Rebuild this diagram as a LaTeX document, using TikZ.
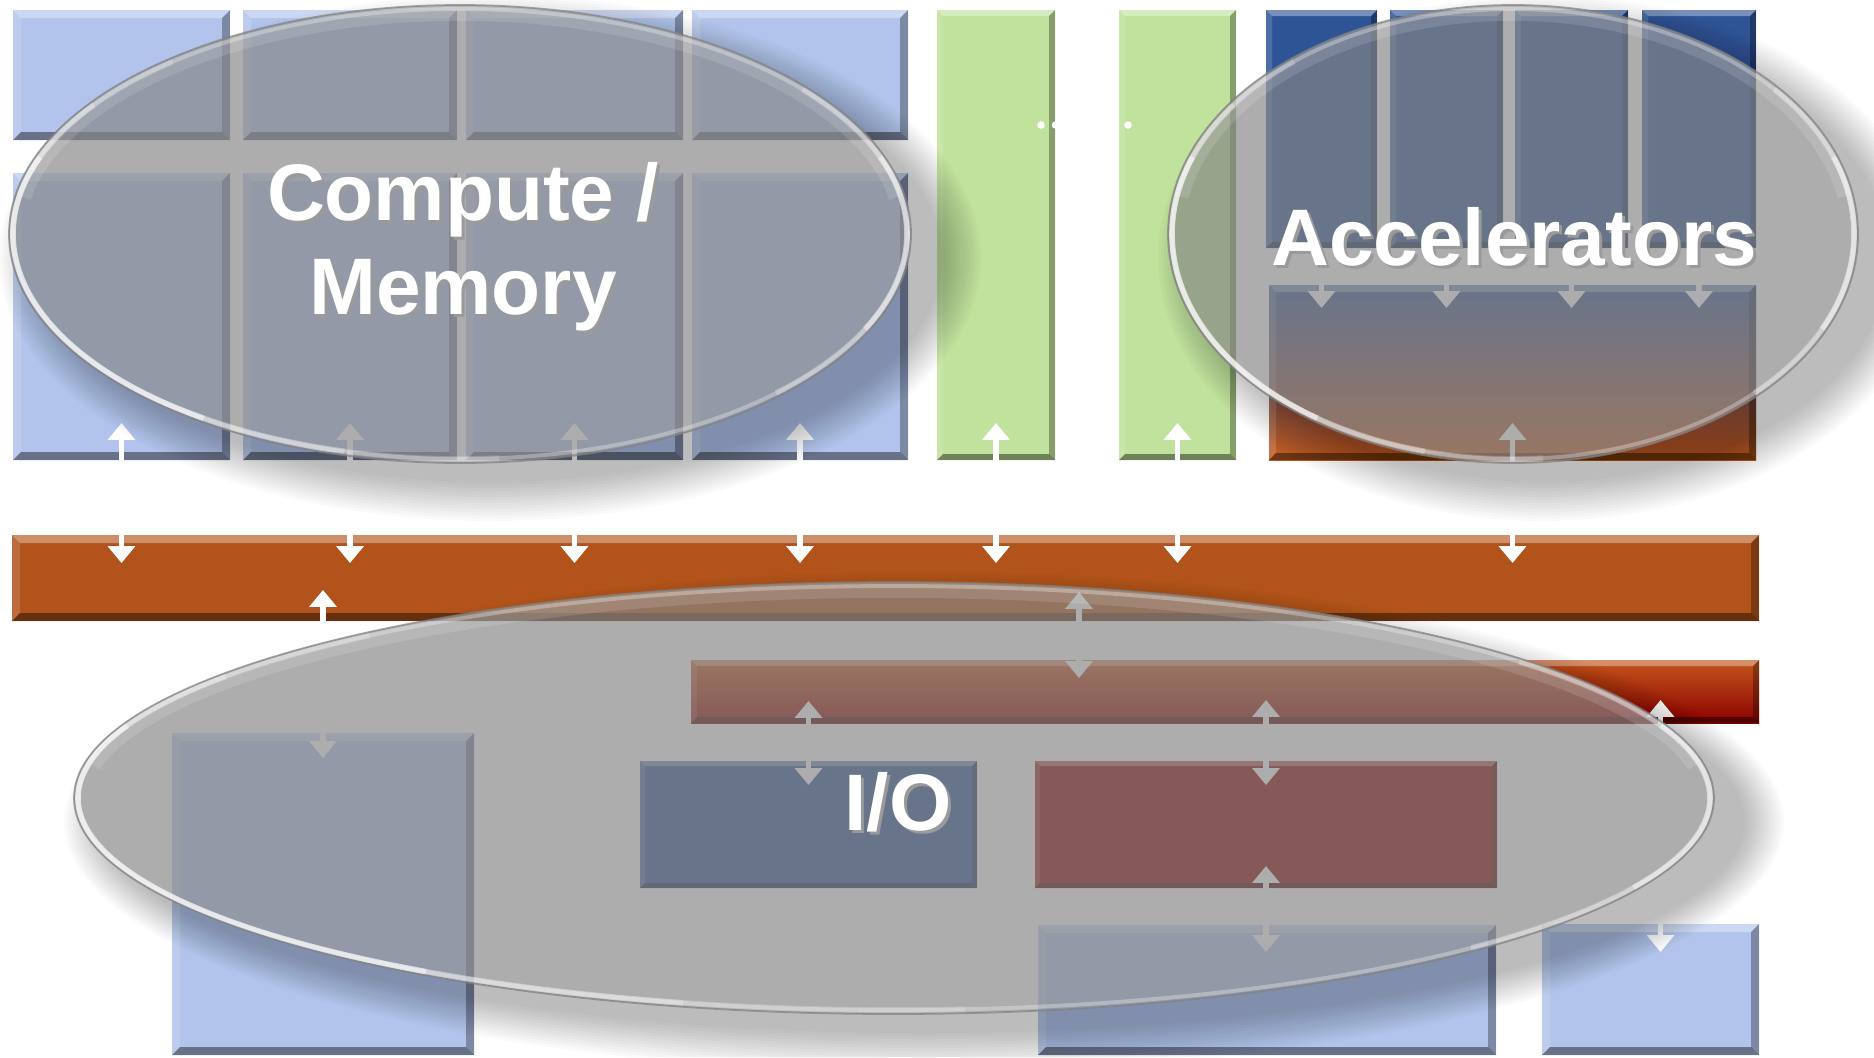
\documentclass[tikz,border=0pt]{standalone}
\usepackage{fontspec}
\setmainfont{Liberation Sans}
\usetikzlibrary{arrows.meta,fit,calc}

\definecolor{lblue}{HTML}{B2C4EB}
\definecolor{lgreen}{HTML}{C0E29C}
\definecolor{dblue}{HTML}{2F5496}
\definecolor{busorange}{HTML}{B1531A}
\definecolor{barorange}{HTML}{C4561C}
\definecolor{dred}{HTML}{8B0000}
\definecolor{accorange}{HTML}{C25A1E}
\definecolor{glass}{HTML}{858585}
\definecolor{txtshadow}{HTML}{9A9A9A}

% white rim arc on a glass ellipse: {cx}{cy}{rx}{ry}{from}{to}{opacity}
\newcommand\rimarc[7]{%
  \draw[white, opacity=#7, line width=1.6pt]
    ({#1+(#3-4)*cos(#5)},{#2+(#4-4)*sin(#5)})
    arc [start angle=#5, end angle=#6, x radius={#3-4}, y radius={#4-4}];
}

% translucent glass ellipse with a soft outer shadow: {cx}{cy}{rx}{ry}
\newcommand\glassellipse[4]{%
  \begin{scope}[even odd rule]
    \clip (0,0) -- (0,1057) -- (1874,1057) -- (1874,0) -- cycle
      (#1,#2) ellipse [x radius=#3, y radius=#4];
    \foreach \k in {0,...,13}
      \fill[black, fill opacity=0.02] ({#1+30},{#2+24})
        ellipse [x radius={#3+40-3*\k}, y radius={#4+34-3*\k}];
  \end{scope}
  \fill[glass, fill opacity=0.67] (#1,#2) ellipse [x radius=#3, y radius=#4];
  % soft light band along the upper inner edge
  \begin{scope}
    \clip (#1,#2) ellipse [x radius=#3, y radius=#4];
    \draw[white, opacity=0.13, line width=9pt]
      ({#1+#3*cos(190)},{#2+#4*sin(190)})
      arc [start angle=190, end angle=350, x radius=#3, y radius=#4];
  \end{scope}
  % glossy rim, brightest on the lower left and right
  \draw[white, opacity=0.3, line width=1.1pt] (#1,#2) ellipse [x radius={#3-4}, y radius={#4-4}];
  \rimarc{#1}{#2}{#3}{#4}{85}{105}{0.2}
  \rimarc{#1}{#2}{#3}{#4}{105}{125}{0.4}
  \rimarc{#1}{#2}{#3}{#4}{125}{200}{0.7}
  \rimarc{#1}{#2}{#3}{#4}{200}{215}{0.4}
  \rimarc{#1}{#2}{#3}{#4}{215}{230}{0.2}
  \rimarc{#1}{#2}{#3}{#4}{-40}{-20}{0.25}
  \rimarc{#1}{#2}{#3}{#4}{-20}{25}{0.55}
  \rimarc{#1}{#2}{#3}{#4}{25}{45}{0.25}
  \draw[gray, opacity=0.7, line width=0.5pt] (#1,#2) ellipse [x radius=#3, y radius=#4];
}

\begin{document}
\begin{tikzpicture}[x=0.01cm, y=-0.01cm,
  blk/.style={inner sep=0pt, outer sep=0pt, draw=none},
  bevel/.style={path picture={
    \coordinate (bnw) at (path picture bounding box.north west);
    \coordinate (bne) at (path picture bounding box.north east);
    \coordinate (bsw) at (path picture bounding box.south west);
    \coordinate (bse) at (path picture bounding box.south east);
    \fill[white, fill opacity=0.35] (bnw) -- (bne) -- ($(bne)+(-#1,#1)$) -- ($(bnw)+(#1,#1)$) -- cycle;
    \fill[white, fill opacity=0.15] (bnw) -- ($(bnw)+(#1,#1)$) -- ($(bsw)+(#1,-#1)$) -- (bsw) -- cycle;
    \fill[black, fill opacity=0.30] (bne) -- (bse) -- ($(bse)+(-#1,-#1)$) -- ($(bne)+(-#1,#1)$) -- cycle;
    \fill[black, fill opacity=0.42] (bsw) -- (bse) -- ($(bse)+(-#1,-#1)$) -- ($(bsw)+(#1,-#1)$) -- cycle;
  }},
  bevel/.default=8,
  duplex/.style={draw=white, line width=1.45pt,
    {Triangle[width=7.6pt,length=4.8pt]}-{Triangle[width=7.6pt,length=4.8pt]}},
  simplex/.style={draw=white, line width=1.45pt, -{Triangle[width=7.6pt,length=4.8pt]}},
  lbl/.style={text=white, inner sep=0pt, align=center,
    font=\fontsize{22.8pt}{26.5pt}\selectfont\bfseries},
  lblshadow/.style={lbl, text=txtshadow}
]
\fill[white] (0,0) rectangle (1874,1057);
\useasboundingbox (0,0) rectangle (1874,1057);

% compute / memory tiles
\node[blk, fill=lblue, bevel, fit={(13,10) (230,140)}] (ct1) {};
\node[blk, fill=lblue, bevel, fit={(243,10) (457,140)}] (ct2) {};
\node[blk, fill=lblue, bevel, fit={(466,10) (683,140)}] (ct3) {};
\node[blk, fill=lblue, bevel, fit={(692,10) (908,140)}] (ct4) {};
\node[blk, fill=lblue, bevel, fit={(13,173) (230,460)}] (cb1) {};
\node[blk, fill=lblue, bevel, fit={(243,173) (457,460)}] (cb2) {};
\node[blk, fill=lblue, bevel, fit={(466,173) (683,460)}] (cb3) {};
\node[blk, fill=lblue, bevel, fit={(692,173) (908,460)}] (cb4) {};

% green columns
\node[blk, fill=lgreen, bevel=6, fit={(937,10) (1055,460)}] (g1) {};
\node[blk, fill=lgreen, bevel=6, fit={(1119,10) (1236,460)}] (g2) {};

% accelerator blocks
\node[blk, fill=dblue, bevel=6, fit={(1266,10) (1377,248)}] (at1) {};
\node[blk, fill=dblue, bevel=6, fit={(1390,10) (1503,248)}] (at2) {};
\node[blk, fill=dblue, bevel=6, fit={(1515,10) (1628,248)}] (at3) {};
\node[blk, fill=dblue, bevel=6, fit={(1642,10) (1756,248)}] (at4) {};
\node[blk, top color=dblue, bottom color=accorange, bevel=7, fit={(1269,285) (1756,460)}] (ab) {};

% bus bars
\node[blk, fill=busorange, bevel=8, fit={(12,535) (1759,621)}] (bus) {};
\node[blk, top color=barorange, bottom color=dred, bevel=6, fit={(691,660) (1759,723)}] (mid) {};

% I/O side blocks
\node[blk, fill=lblue, bevel, fit={(172,733) (474,1055)}] (ll) {};
\node[blk, fill=dblue, bevel=5, fit={(640,761) (977,888)}] (io) {};
\node[blk, fill=dred, bevel=5, fit={(1035,761) (1497,888)}] (red) {};
\node[blk, fill=lblue, bevel, fit={(1038,925) (1496,1055)}] (lm) {};
\node[blk, fill=lblue, bevel, fit={(1542,924) (1759,1055)}] (lr) {};

% ellipsis between the green columns
\foreach \i in {0,...,6}
  \fill[white] ({1041+14.5*\i},125) circle [radius=3.8];

% links to the bus
\foreach \n in {cb1,cb2,cb3,cb4,g1,g2,ab}
  \draw[duplex] ($(\n.south)+(0,-37)$) -- ($(\n.south |- bus.north)+(0,28)$);
\foreach \n in {at1,at2,at3,at4}
  \draw[simplex] (\n.south) -- ($(\n.south |- ab.north)+(0,23)$);
\draw[duplex] ($(ll.north |- bus.south)+(0,-31)$) -- ($(ll.north)+(0,25)$);
\draw[duplex] ($(bus.south west)+(1067,-29)$) -- ($(mid.north west)+(388,18)$);
\draw[duplex] ($(io.north |- mid.south)+(0,-22)$) -- ($(io.north)+(0,24)$);
\draw[duplex] ($(red.north |- mid.south)+(0,-23)$) -- ($(red.north)+(0,24)$);
\draw[duplex] ($(red.south)+(0,-22)$) -- ($(red.south |- lm.north)+(0,27)$);
\draw[duplex] ($(lr.north |- mid.south)+(10,-23)$) -- ($(lr.north)+(10,28)$);

% glass groupings
\glassellipse{460}{234}{451}{229}
\glassellipse{1513}{234}{345}{229}
\glassellipse{894}{798}{820}{216}

% labels
\node[lblshadow, anchor=north] (cmshadow) at (466,165) {Compute /\\Memory};
\node[lbl, anchor=north] (cmlabel) at (463,162) {Compute /\\Memory};
\node[lblshadow, anchor=base] (acshadow) at (1517,268) {Accelerators};
\node[lbl, anchor=base] (aclabel) at (1514,265) {Accelerators};
\node[lblshadow, anchor=base] (ioshadow) at (901,833) {I/O};
\node[lbl, anchor=base] (iolabel) at (898,830) {I/O};
\end{tikzpicture}
\end{document}
